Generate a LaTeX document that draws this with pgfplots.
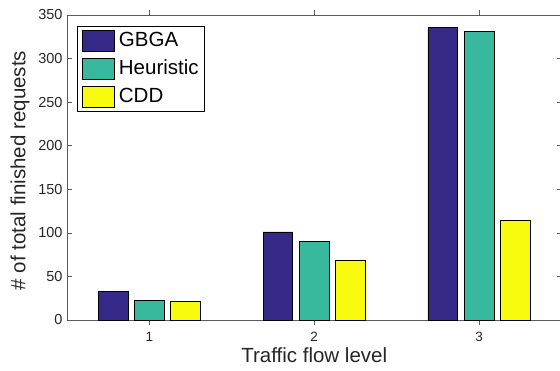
\documentclass[border=0pt]{standalone}
\usepackage{fontspec}
\setmainfont{Liberation Sans}
\usepackage{pgfplots}
\pgfplotsset{compat=1.18}
\definecolor{cGBGA}{RGB}{53,42,135}
\definecolor{cHeur}{RGB}{56,185,158}
\definecolor{cCDD}{RGB}{249,251,14}
\definecolor{axgray}{RGB}{38,38,38}
\begin{document}
\begin{tikzpicture}
\begin{axis}[
  at={(67pt,50pt)}, anchor=south west,
  width=494.5pt, height=305pt, scale only axis,
  xmin=0.5, xmax=3.5, ymin=0, ymax=350,
  xtick={1,2,3}, ytick={0,50,...,350},
  tick align=inside, major tick length=5pt,
  axis line style={draw=axgray!75, line width=0.7pt},
  every tick/.style={draw=axgray!75, line width=0.7pt},
  /pgf/number format/assume math mode=true,
  yticklabel style={font=\fontsize{14.5}{17}\selectfont, text=axgray, xshift=-1pt},
  xticklabel style={font=\fontsize{13.5}{16}\selectfont, text=axgray, yshift=-4pt},
  xlabel={Traffic flow level},
  ylabel={\# of total finished requests},
  every axis x label/.style={at={(axis description cs:0.5,-0.115)}, anchor=center, font=\fontsize{20.5}{24}\selectfont, text=axgray},
  every axis y label/.style={at={(axis description cs:-0.095,0.49)}, anchor=center, rotate=90, font=\fontsize{20.5}{24}\selectfont, text=axgray},
  ybar, bar width=0.18,
  legend style={at={(axis description cs:0.02,0.964)}, anchor=north west,
    draw=black, line width=0.7pt, fill=white,
    font=\fontsize{20.5}{24}\selectfont,
    inner xsep=5pt, inner ysep=4pt, row sep=6pt, column sep=3pt,
    nodes={inner sep=1pt, text height=15pt, text depth=4pt, anchor=west}},
  legend cell align=left,
  legend image code/.code={\draw[#1, line width=0.7pt] (0pt,-10.5pt) rectangle (32pt,10.5pt);},
]
\addplot[bar shift=-0.22, fill=cGBGA, draw=black, line width=0.7pt] coordinates {(1,33) (2,101) (3,336)};
\addplot[bar shift=0, fill=cHeur, draw=black, line width=0.7pt] coordinates {(1,22) (2,90) (3,331)};
\addplot[bar shift=0.22, fill=cCDD, draw=black, line width=0.7pt] coordinates {(1,21) (2,69) (3,114)};
\legend{GBGA,Heuristic,CDD}
\end{axis}
\pgfresetboundingbox
\useasboundingbox (0,0) rectangle (560pt,370pt);
\end{tikzpicture}
\end{document}
